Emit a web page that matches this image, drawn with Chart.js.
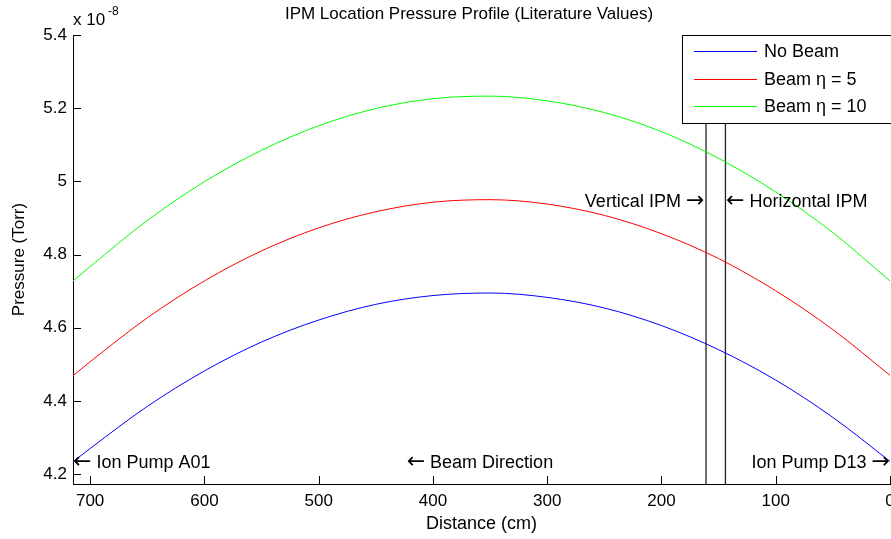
<!DOCTYPE html>
<html>
<head>
<meta charset="utf-8">
<script src="https://cdn.jsdelivr.net/npm/chart.js@4.4.1/dist/chart.umd.min.js"></script>
<style>
html, body { margin: 0; padding: 0; background: #fff; }
</style>
</head>
<body>
<canvas id="chart1" width="891" height="539"></canvas>
<script>
"use strict";

// data (pressure in units of 1e-8 Torr)
const distance = [0, 50, 100, 150, 200, 250, 300, 350, 400, 450, 500, 550, 600, 650, 700, 715];
const noBeam = [4.235, 4.355, 4.457, 4.540, 4.606, 4.654, 4.683, 4.695, 4.688, 4.664, 4.621, 4.561, 4.482, 4.385, 4.270, 4.234];
const beam5 = [4.470, 4.595, 4.701, 4.789, 4.857, 4.907, 4.938, 4.950, 4.943, 4.917, 4.873, 4.810, 4.728, 4.627, 4.507, 4.469];
const beam10 = [4.728, 4.860, 4.971, 5.063, 5.136, 5.188, 5.220, 5.233, 5.226, 5.199, 5.152, 5.085, 4.999, 4.893, 4.767, 4.728];
const seriesNames = ["No Beam", "Beam η = 5", "Beam η = 10"];
const seriesColors = ["#0000ff", "#ff0000", "#00ff00"];

// IPM positions (cm)
const ipmVertical = 161;
const ipmHorizontal = 144;

const xRange = [0, 715];
const yRange = [4.173, 5.4];
const xTicks = [0, 100, 200, 300, 400, 500, 600, 700];
const yTicks = [4.2, 4.4, 4.6, 4.8, 5.0, 5.2, 5.4];
const yTickLabels = ["4.2", "4.4", "4.6", "4.8", "5", "5.2", "5.4"];

// text notes: [text, x, y]
const notes = [
    ["← Ion Pump A01", 715, 4.233],
    ["← Beam Direction", 423, 4.233],
    ["Ion Pump D13 →", 0, 4.233],
    ["Vertical IPM →", 162.5, 4.946],
    ["← Horizontal IPM", 143.5, 4.946],
];

const FONT = '"Liberation Sans", Arial, sans-serif';
const ARROW_FONT = '22px "DejaVu Sans", sans-serif';
Chart.defaults.font.family = FONT;
Chart.defaults.color = "#000";

const toPoints = (values) => distance.map((d, i) => ({ x: d, y: values[i] }));
const vline = (x) => [{ x: x, y: yRange[0] }, { x: x, y: yRange[1] }];

const lineSets = [noBeam, beam5, beam10].map((values, i) => ({
    label: seriesNames[i],
    data: toPoints(values),
    borderColor: seriesColors[i],
    backgroundColor: seriesColors[i],
    borderWidth: 1,
    pointRadius: 0,
    cubicInterpolationMode: "monotone",
}));

const ipmSets = [ipmVertical, ipmHorizontal].map((x) => ({
    label: "ipm",
    data: vline(x),
    borderColor: "#222",
    borderWidth: 1.3,
    pointRadius: 0,
}));

const drawNote = (ctx, text, px, py) => {
    // 矢印は別フォントで描く
    ctx.textBaseline = "middle";
    if (text.startsWith("←")) {
        const rest = text.slice(2);
        ctx.font = ARROW_FONT;
        ctx.textAlign = "left";
        ctx.fillText("←", px, py);
        const aw = ctx.measureText("←").width;
        ctx.font = "18px " + FONT;
        ctx.fillText(rest, px + aw + 5, py + 1);
    } else {
        const rest = text.slice(0, -2);
        ctx.font = ARROW_FONT;
        ctx.textAlign = "right";
        ctx.fillText("→", px, py);
        const aw = ctx.measureText("→").width;
        ctx.font = "18px " + FONT;
        ctx.fillText(rest, px - aw - 5, py + 1);
    }
};

const drawExtras = {
    id: "drawExtras",
    afterDraw(chart) {
        const ctx = chart.ctx;
        const xs = chart.scales.x;
        const ys = chart.scales.y;
        const area = chart.chartArea;
        ctx.save();

        // inward ticks
        ctx.strokeStyle = "#000";
        ctx.lineWidth = 1;
        xTicks.forEach((v) => {
            const px = Math.round(xs.getPixelForValue(v)) + 0.5;
            ctx.beginPath();
            ctx.moveTo(px, area.bottom);
            ctx.lineTo(px, area.bottom - 8);
            ctx.stroke();
        });
        yTicks.forEach((v) => {
            const py = Math.round(ys.getPixelForValue(v)) + 0.5;
            ctx.beginPath();
            ctx.moveTo(area.left, py);
            ctx.lineTo(area.left + 8, py);
            ctx.stroke();
        });

        // title
        ctx.fillStyle = "#000";
        ctx.font = "17px " + FONT;
        ctx.textAlign = "center";
        ctx.textBaseline = "middle";
        ctx.fillText("IPM Location Pressure Profile (Literature Values)", 469, 14);

        // exponent
        ctx.textAlign = "left";
        ctx.textBaseline = "alphabetic";
        ctx.font = "17px " + FONT;
        ctx.fillText("x 10", 73, 25);
        ctx.font = "12px " + FONT;
        ctx.fillText("-8", 108, 15);

        // notes
        notes.forEach(([text, x, y]) => {
            drawNote(ctx, text, xs.getPixelForValue(x), ys.getPixelForValue(y));
        });

        // legend
        const lx = 682.5, ly = 35.5, lw = 220, lh = 88;
        ctx.fillStyle = "#fff";
        ctx.fillRect(lx, ly, lw, lh);
        ctx.strokeStyle = "#000";
        ctx.lineWidth = 1;
        ctx.strokeRect(lx, ly, lw, lh);
        ctx.font = "18px " + FONT;
        ctx.textAlign = "left";
        ctx.textBaseline = "middle";
        seriesNames.forEach((name, i) => {
            const ry = Math.round(51 + i * 27.5);
            ctx.strokeStyle = seriesColors[i];
            ctx.lineWidth = 1.2;
            ctx.beginPath();
            ctx.moveTo(694, ry + 0.5);
            ctx.lineTo(757, ry + 0.5);
            ctx.stroke();
            ctx.fillStyle = "#000";
            ctx.fillText(name, 764, ry + 1);
        });

        ctx.restore();
    },
};

const context = document.getElementById("chart1").getContext("2d");
const myChart = new Chart(context, {
    type: "line",
    data: { datasets: lineSets.concat(ipmSets) },
    options: {
        responsive: false,
        animation: false,
        layout: { padding: { top: 35, right: 1, left: 0, bottom: 0 } },
        plugins: {
            legend: { display: false },
            tooltip: { enabled: false },
        },
        scales: {
            x: {
                type: "linear",
                reverse: true,
                min: xRange[0],
                max: xRange[1],
                grid: { display: false, drawTicks: false },
                border: { display: true, color: "#000", width: 1 },
                ticks: {
                    autoSkip: false,
                    maxRotation: 0,
                    padding: 7,
                    font: { size: 17 },
                    callback: (v) => String(v),
                },
                afterBuildTicks: (s) => {
                    s.ticks = xTicks.map((v) => ({ value: v }));
                },
                afterFit: (s) => {
                    s.height = 55;
                    s.paddingLeft = 0;
                    s.paddingRight = 0;
                },
                title: {
                    display: true,
                    text: "Distance (cm)",
                    font: { size: 18 },
                    padding: { top: 0, bottom: 4 },
                },
            },
            y: {
                type: "linear",
                min: yRange[0],
                max: yRange[1],
                grid: { display: false, drawTicks: false },
                border: { display: true, color: "#000", width: 1 },
                ticks: {
                    autoSkip: false,
                    padding: 6,
                    font: { size: 17 },
                    callback: (v) => {
                        const i = yTicks.findIndex((t) => Math.abs(t - v) < 1e-6);
                        return i >= 0 ? yTickLabels[i] : "";
                    },
                },
                afterBuildTicks: (s) => {
                    s.ticks = yTicks.map((v) => ({ value: v }));
                },
                afterFit: (s) => {
                    s.width = 73;
                    s.paddingTop = 0;
                    s.paddingBottom = 0;
                },
                title: {
                    display: true,
                    text: "Pressure (Torr)",
                    font: { size: 17 },
                    padding: { top: 9, bottom: 0 },
                },
            },
        },
    },
    plugins: [drawExtras],
});
</script>
</body>
</html>
